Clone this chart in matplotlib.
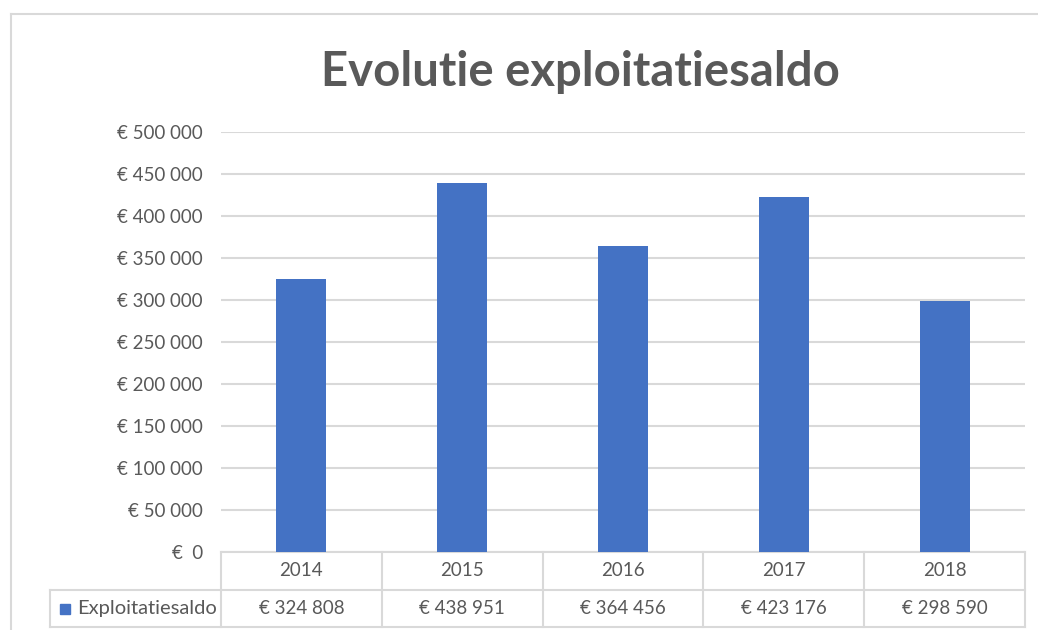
import matplotlib
matplotlib.use("Agg")
import matplotlib.pyplot as plt
from matplotlib.lines import Line2D
from matplotlib.patches import Rectangle
import matplotlib.transforms as mtransforms

years = ["2014", "2015", "2016", "2017", "2018"]
values = [324808, 438951, 364456, 423176, 298590]
value_labels = ["€ 324 808", "€ 438 951", "€ 364 456", "€ 423 176", "€ 298 590"]
yticks = [0, 50000, 100000, 150000, 200000, 250000, 300000, 350000, 400000, 450000, 500000]
ytick_labels = ["€  0", "€ 50 000", "€ 100 000", "€ 150 000", "€ 200 000", "€ 250 000",
                "€ 300 000", "€ 350 000", "€ 400 000", "€ 450 000", "€ 500 000"]
series_name = "Exploitatiesaldo"
title = "Evolutie exploitatiesaldo"

plt.rcParams['font.family'] = ['Lato', 'DejaVu Sans']
W, H = 1038, 630
fig = plt.figure(figsize=(W / 100, H / 100), dpi=100)
BLUE = "#4472C4"
GRID = "#d9d9d9"
TXT = "#595959"

# plot area in pixels
x0, x1, y0, y1 = 221, 1025, 132, 552
ax = fig.add_axes([x0 / W, 1 - y1 / H, (x1 - x0) / W, (y1 - y0) / H])
xs = list(range(len(years)))
ax.bar(xs, values, width=0.31, color=BLUE, zorder=3)
ax.set_xlim(-0.5, len(years) - 0.5)
ax.set_ylim(0, 500000)
ax.set_yticks(yticks)
ax.set_yticklabels(ytick_labels, fontsize=13.5, color=TXT)
ax.tick_params(axis='y', length=0, pad=13)
ax.set_xticks([])
for s in ax.spines.values():
    s.set_visible(False)
ax.grid(axis='y', color=GRID, lw=1.5, zorder=0)
ax.set_axisbelow(True)

# data table
ah = y1 - y0
r1 = -(590 - 552) / ah
r2 = -(627 - 552) / ah
trans = mtransforms.blended_transform_factory(ax.transData, ax.transAxes)
xl = (50 - x0) / (x1 - x0) * len(years) - 0.5
lines = []
lines.append(([-0.5, len(years) - 0.5], [0, 0]))
lines.append(([xl, len(years) - 0.5], [r1, r1]))
lines.append(([xl, len(years) - 0.5], [r2, r2]))
lines.append(([xl, xl], [r1, r2]))
for i in range(len(years) + 1):
    lines.append(([i - 0.5, i - 0.5], [0, r2]))
for lx, ly in lines:
    ax.add_line(Line2D(lx, ly, transform=trans, color=GRID, lw=1.5, clip_on=False))
for i, (yr, vl) in enumerate(zip(years, value_labels)):
    ax.text(i, r1 / 2, yr, transform=trans, ha='center', va='center', fontsize=13.5, color=TXT)
    ax.text(i, (r1 + r2) / 2, vl, transform=trans, ha='center', va='center', fontsize=13.5, color=TXT)
# legend key
fig.patches.append(Rectangle((60 / W, 1 - 614 / H), 10 / W, 10 / H, transform=fig.transFigure,
                             color=BLUE))
fig.text(77 / W, 1 - 608.5 / H, series_name, ha='left', va='center', fontsize=14.5, color=TXT)

# title
fig.text(580 / W, 1 - 72 / H, title, ha='center', va='center', fontsize=34,
         fontweight='bold', color=TXT)

# outer frame (top and left)
fig.add_artist(Line2D([11 / W, 1.0], [1 - 14 / H, 1 - 14 / H], transform=fig.transFigure,
                      color=GRID, lw=1.5))
fig.add_artist(Line2D([11 / W, 11 / W], [1 - 14 / H, 0], transform=fig.transFigure,
                      color=GRID, lw=1.5))

fig.savefig("out.png", dpi=100, facecolor="white")
